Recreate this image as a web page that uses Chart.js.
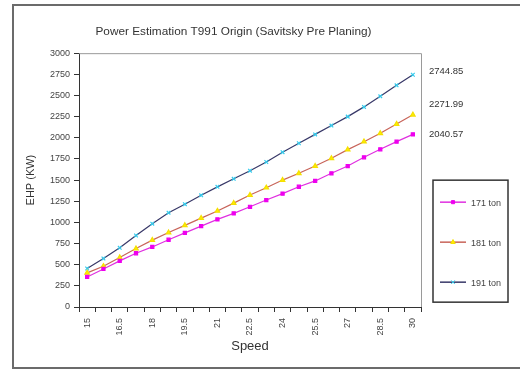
<!DOCTYPE html>
<html>
<head>
<meta charset="utf-8">
<title>Power Estimation T991 Origin</title>
<script src="https://cdn.jsdelivr.net/npm/chart.js@4.4.0/dist/chart.umd.min.js"></script>
<style>
  html, body { margin: 0; padding: 0; background: #fff; }
  #wrap { position: relative; width: 520px; height: 371px; }
</style>
</head>
<body>
<div id="wrap"><canvas id="chart"></canvas></div>
<script>
// --- DATA ---
const speeds = ["15", "15.75", "16.5", "17.25", "18", "18.75", "19.5", "20.25", "21", "21.75",
  "22.5", "23.25", "24", "24.75", "25.5", "26.25", "27", "27.75", "28.5", "29.25", "30"];
const tickLabels = ["15", "16.5", "18", "19.5", "21", "22.5", "24", "25.5", "27", "28.5", "30"];
const yTicks = { min: 0, max: 3000, step: 250 };

const ehp171 = [355, 450, 545, 635, 710, 795, 876, 956, 1035, 1106, 1184,
  1264, 1340, 1421, 1490, 1580, 1666, 1769, 1864, 1954, 2040.57];
const ehp181 = [403, 482, 585, 691, 790, 880, 965, 1050, 1135, 1228, 1323,
  1410, 1500, 1580, 1666, 1757, 1860, 1954, 2053, 2163, 2271.99];
const ehp191 = [455, 573, 700, 845, 985, 1115, 1215, 1320, 1420, 1515, 1611,
  1714, 1830, 1935, 2040, 2144, 2250, 2365, 2490, 2620, 2744.85];

const seriesNames = ["171 ton", "181 ton", "191 ton"];

// --- STYLE ---
const FONT = "'Liberation Sans', Arial, sans-serif";
const labelNudge = [0, -10, -3]; // end labels were dragged a bit in the original

// frame round the whole picture + grey top/right edge of the plot
const framePlugin = {
  id: "frame",
  beforeDraw(chart) {
    const { ctx, width, height } = chart;
    ctx.save();
    ctx.fillStyle = "#fff";
    ctx.fillRect(0, 0, width, height);
    ctx.strokeStyle = "#6b6b6b";
    ctx.lineWidth = 2;
    ctx.strokeRect(13, 5, width, height - 8);
    ctx.restore();
  },
  afterDraw(chart) {
    const { ctx, chartArea: a } = chart;
    ctx.save();
    ctx.strokeStyle = "#9a9a9a";
    ctx.lineWidth = 1;
    ctx.beginPath();
    ctx.moveTo(a.left, a.top + 0.5);
    ctx.lineTo(a.right + 0.5, a.top + 0.5);
    ctx.lineTo(a.right + 0.5, a.bottom);
    ctx.stroke();
    ctx.restore();
  }
};

// value of the last point, written to the right of the plot
const endLabelPlugin = {
  id: "endLabels",
  afterDatasetsDraw(chart) {
    const { ctx, chartArea } = chart;
    ctx.save();
    ctx.font = "9.5px " + FONT;
    ctx.fillStyle = "#333";
    ctx.textBaseline = "middle";
    chart.data.datasets.forEach((ds, i) => {
      const pts = chart.getDatasetMeta(i).data;
      const last = pts[pts.length - 1];
      const v = ds.data[ds.data.length - 1];
      ctx.fillText(v.toFixed(2), chartArea.right + 8, last.y + labelNudge[i]);
    });
    ctx.restore();
  }
};

// boxed legend under the end labels
const boxLegendPlugin = {
  id: "boxLegend",
  afterDraw(chart) {
    const { ctx, chartArea } = chart;
    const x0 = chartArea.right + 12;
    const y0 = chartArea.top + 127;
    ctx.save();
    ctx.strokeStyle = "#333";
    ctx.lineWidth = 1.5;
    ctx.strokeRect(x0, y0, 75, 122);
    ctx.font = "9px " + FONT;
    ctx.textBaseline = "middle";
    chart.data.datasets.forEach((ds, i) => {
      const y = y0 + 22 + i * 40;
      ctx.strokeStyle = ds.borderColor;
      ctx.lineWidth = 1.5;
      ctx.beginPath();
      ctx.moveTo(x0 + 7, y);
      ctx.lineTo(x0 + 33, y);
      ctx.stroke();
      if (Chart.helpers && Chart.helpers.drawPoint) {
        ctx.fillStyle = ds.pointBackgroundColor;
        ctx.strokeStyle = ds.pointBorderColor;
        ctx.lineWidth = 1;
        Chart.helpers.drawPoint(ctx, { pointStyle: ds.pointStyle, radius: ds.pointRadius, borderWidth: 1 }, x0 + 20, y);
      }
      ctx.fillStyle = "#444";
      ctx.fillText(ds.label, x0 + 38, y + 1);
    });
    ctx.restore();
  }
};

const ctx = document.getElementById("chart").getContext("2d");
new Chart(ctx, {
  type: "line",
  data: {
    labels: speeds,
    datasets: [
      {
        label: seriesNames[0],
        data: ehp171,
        borderColor: "#e030e0",
        pointBackgroundColor: "#ee00ee",
        pointBorderColor: "#ee00ee",
        pointStyle: "rect",
        pointRadius: 2.2,
        borderWidth: 1.2,
        tension: 0
      },
      {
        label: seriesNames[1],
        data: ehp181,
        borderColor: "#c8645a",
        pointBackgroundColor: "#ffee00",
        pointBorderColor: "#f5e000",
        pointStyle: "triangle",
        pointRadius: 2.6,
        borderWidth: 1.2,
        tension: 0
      },
      {
        label: seriesNames[2],
        data: ehp191,
        borderColor: "#383868",
        pointBackgroundColor: "#33ccee",
        pointBorderColor: "#33ccee",
        pointStyle: "crossRot",
        pointRadius: 2.6,
        borderWidth: 1.2,
        tension: 0
      }
    ]
  },
  options: {
    responsive: true,
    maintainAspectRatio: false,
    animation: false,
    layout: { padding: { left: 46, right: 99, top: 0, bottom: 14 } },
    plugins: {
      legend: { display: false },
      tooltip: { enabled: false },
      title: {
        display: true,
        text: "Power Estimation T991 Origin (Savitsky Pre Planing)",
        color: "#333",
        font: { family: FONT, size: 11.8, weight: "normal" },
        padding: { top: 25, bottom: 14 }
      }
    },
    scales: {
      x: {
        type: "category",
        offset: true,
        grid: { display: true, offset: true, drawOnChartArea: false, drawTicks: true, tickLength: 5, color: "#333" },
        border: { color: "#333", width: 1 },
        ticks: {
          autoSkip: false,
          minRotation: 90,
          maxRotation: 90,
          padding: 6,
          color: "#444",
          font: { family: FONT, size: 9 },
          callback: function (value) {
            const s = this.getLabelForValue(value);
            return tickLabels.includes(s) ? s : "";
          }
        },
        title: {
          display: true,
          text: "Speed",
          color: "#333",
          font: { family: FONT, size: 13 },
          padding: { top: 0, bottom: 3 }
        },
        afterFit: (scale) => { scale.height = 50; }
      },
      y: {
        min: yTicks.min,
        max: yTicks.max,
        grid: { display: true, drawOnChartArea: false, drawTicks: true, tickLength: 5, color: "#333" },
        border: { color: "#333", width: 1 },
        ticks: {
          stepSize: yTicks.step,
          padding: 4,
          color: "#444",
          font: { family: FONT, size: 9 },
          callback: (value) => String(value)
        },
        title: {
          display: true,
          text: "EHP (KW)",
          color: "#333",
          font: { family: FONT, size: 11 },
          padding: { top: -22, bottom: 0 }
        },
        afterFit: (scale) => { scale.width = 33; }
      }
    }
  },
  plugins: [framePlugin, endLabelPlugin, boxLegendPlugin]
});
</script>
</body>
</html>
